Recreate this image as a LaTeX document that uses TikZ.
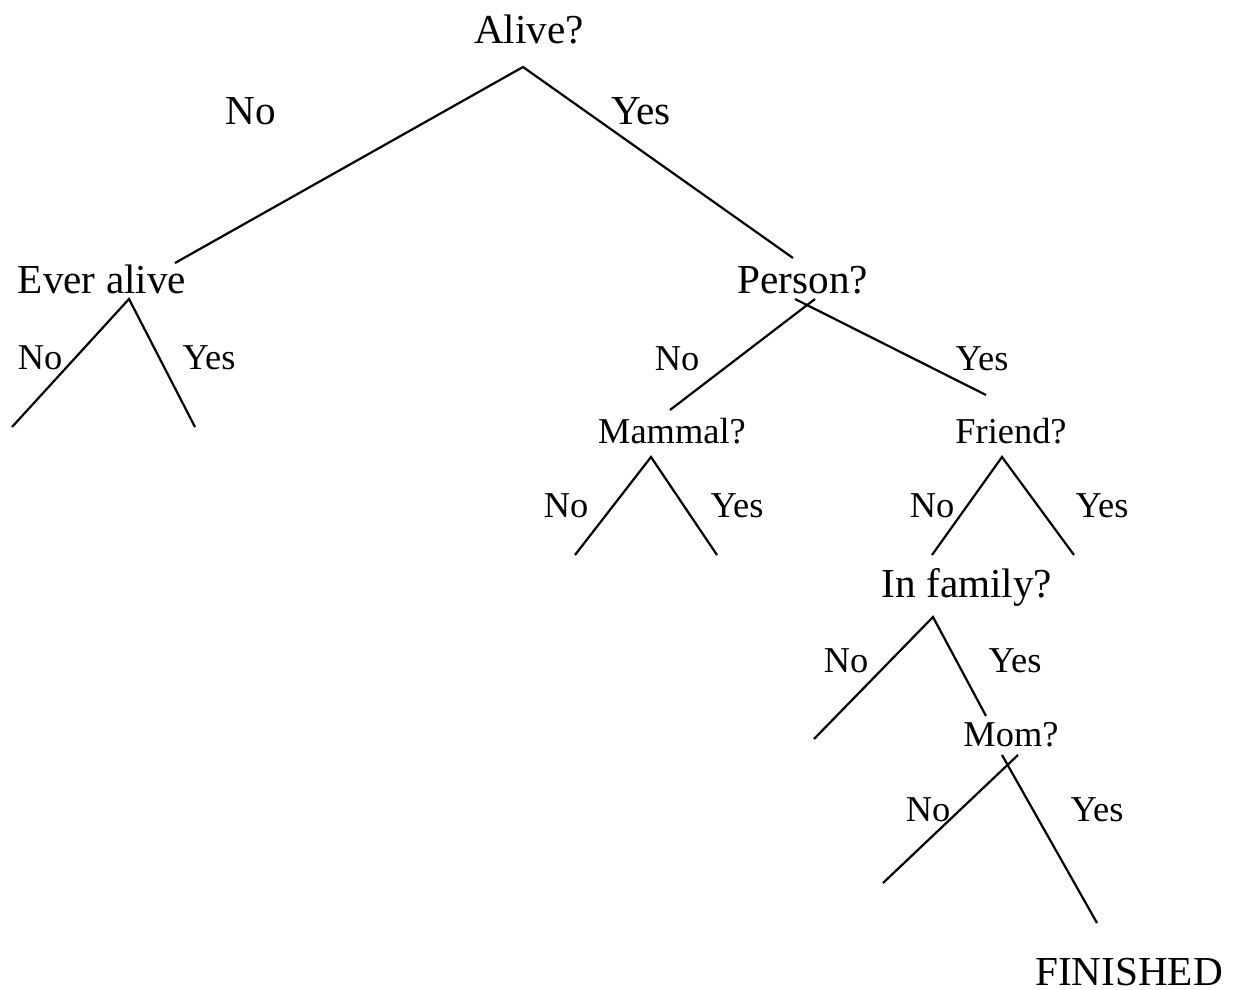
\documentclass[tikz,border=0pt]{standalone}
\usepackage{fontspec}
\setmainfont{Liberation Serif}
\begin{document}
\begin{tikzpicture}[x=0.5pt,y=-0.5pt,
  big/.style={font=\fontsize{20.6}{24}\selectfont,anchor=base,inner sep=0pt},
  small/.style={font=\fontsize{18.2}{22}\selectfont,anchor=base,inner sep=0pt},
  branch/.style={line width=1.1pt}]
\useasboundingbox (0,0) rectangle (1233,990);

% questions and answers
\node[big]   (alive)  at (529,44)   {Alive?};
\node[big]   (ever)   at (102,293)  {Ever alive};
\node[big]   (person) at (803,293)  {Person?};
\node[small] (mammal) at (672,443)  {Mammal?};
\node[small] (friend) at (1011,443) {Friend?};
\node[big]   (family) at (967,597)  {In family?};
\node[small] (mom)    at (1011,746) {Mom?};
\node[big]   (done)   at (1129,985) {FINISHED};

% branch labels
\node[big]   (l1n) at (251,125)  {No};
\node[big]   (l1y) at (641,125)  {Yes};
\node[small] (l2n) at (40,369)   {No};
\node[small] (l2y) at (209,369)  {Yes};
\node[small] (l3n) at (677,370)  {No};
\node[small] (l3y) at (982,370)  {Yes};
\node[small] (l4n) at (566,517)  {No};
\node[small] (l4y) at (737,517)  {Yes};
\node[small] (l5n) at (932,517)  {No};
\node[small] (l5y) at (1102,517) {Yes};
\node[small] (l6n) at (846,672)  {No};
\node[small] (l6y) at (1015,672) {Yes};
\node[small] (l7n) at (928,821)  {No};
\node[small] (l7y) at (1097,821) {Yes};

% branch points
\coordinate (aliveA)   at (523,67);
\coordinate (everT)    at (175,263);
\coordinate (personT)  at (793,258);
\coordinate (everA)    at (129,299);
\coordinate (everN)    at (12,427);
\coordinate (everY)    at (195,427);
\coordinate (personN0) at (815,299);
\coordinate (personY0) at (795,299);
\coordinate (mammalT)  at (670,410);
\coordinate (friendT)  at (986,395);
\coordinate (mammalA)  at (651,457);
\coordinate (mammalN)  at (575,555);
\coordinate (mammalY)  at (717,555);
\coordinate (friendA)  at (1002,457);
\coordinate (friendN)  at (932,555);
\coordinate (friendY)  at (1074,555);
\coordinate (familyA)  at (933,617);
\coordinate (familyN)  at (814,739);
\coordinate (momT)     at (986,716);
\coordinate (momN0)    at (1018,755);
\coordinate (momY0)    at (1002,755);
\coordinate (momN)     at (883,883);
\coordinate (doneT)    at (1097,923);

% connectors
\draw[branch] (everT) -- (aliveA) -- (personT);
\draw[branch] (everN) -- (everA) -- (everY);
\draw[branch] (personN0) -- (mammalT);
\draw[branch] (personY0) -- (friendT);
\draw[branch] (mammalN) -- (mammalA) -- (mammalY);
\draw[branch] (friendN) -- (friendA) -- (friendY);
\draw[branch] (familyN) -- (familyA) -- (momT);
\draw[branch] (momN0) -- (momN);
\draw[branch] (momY0) -- (doneT);
\end{tikzpicture}
\end{document}
